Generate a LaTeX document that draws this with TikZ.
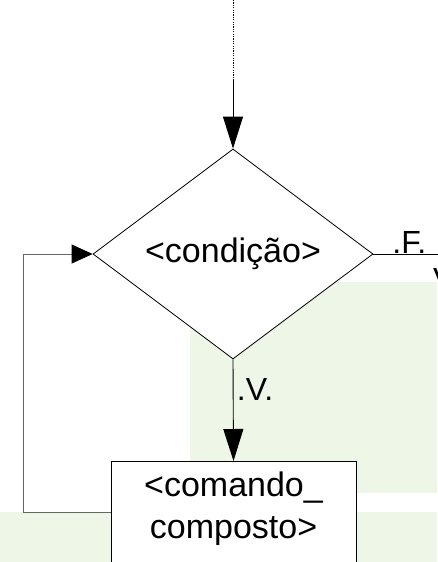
\documentclass[tikz,border=0pt]{standalone}
\usepackage{fontspec}
\setmainfont{Liberation Sans}
\usetikzlibrary{shapes.geometric,arrows.meta}
\definecolor{bggreen}{RGB}{238,246,231}

\begin{document}
\begin{tikzpicture}[x=1pt,y=-1pt,
  every node/.style={font=\fontsize{34}{42}\selectfont},
  lbl/.style={font=\fontsize{32}{36}\selectfont},
  flow/.style={line width=0.9pt,-{Triangle[length=32pt,width=20pt]}},
  back/.style={line width=0.9pt,black!60,-{Triangle[length=21pt,width=19pt,black]}}]
\useasboundingbox (0,0) rectangle (437,562);
% pale panels behind the chart
\fill[bggreen] (190,282) rectangle (437,493);
\fill[bggreen] (0,512) rectangle (437,562);
% decision and command
\node[diamond, draw, fill=white, line width=0.8pt, inner sep=0pt,
      minimum width=280pt, minimum height=210pt] (cond) at (233,254) {<condição>};
\node[draw, fill=white, line width=0.8pt, anchor=north, align=center,
      minimum width=245pt, inner ysep=10pt] (cmd) at (233.5,461)
      {<comando\_\\composto>\rule[-30pt]{0pt}{30pt}};
\coordinate (entry) at (233,0);
\coordinate (dotend) at (233,80);
\coordinate (fexit) at (440,254);
\coordinate (loopback) at (23,512);
% connectors
\draw[line width=0.9pt, dash pattern=on 1.2pt off 1.2pt] (entry) -- (dotend);
\draw[flow] (dotend) -- (cond.north);
\draw[flow] (cond.south) -- node[lbl, right, pos=0.3] {.V.} (cmd.north);
\draw[line width=0.8pt] (cond.east) -- node[lbl, above=-3pt, pos=0.54] {.F.} (fexit);
\draw[back] (cmd.west |- loopback) -- (loopback) |- (cond.west);
\node[lbl, anchor=north west, inner sep=0pt] (cutv) at (433,268) {V};
\end{tikzpicture}
\end{document}
